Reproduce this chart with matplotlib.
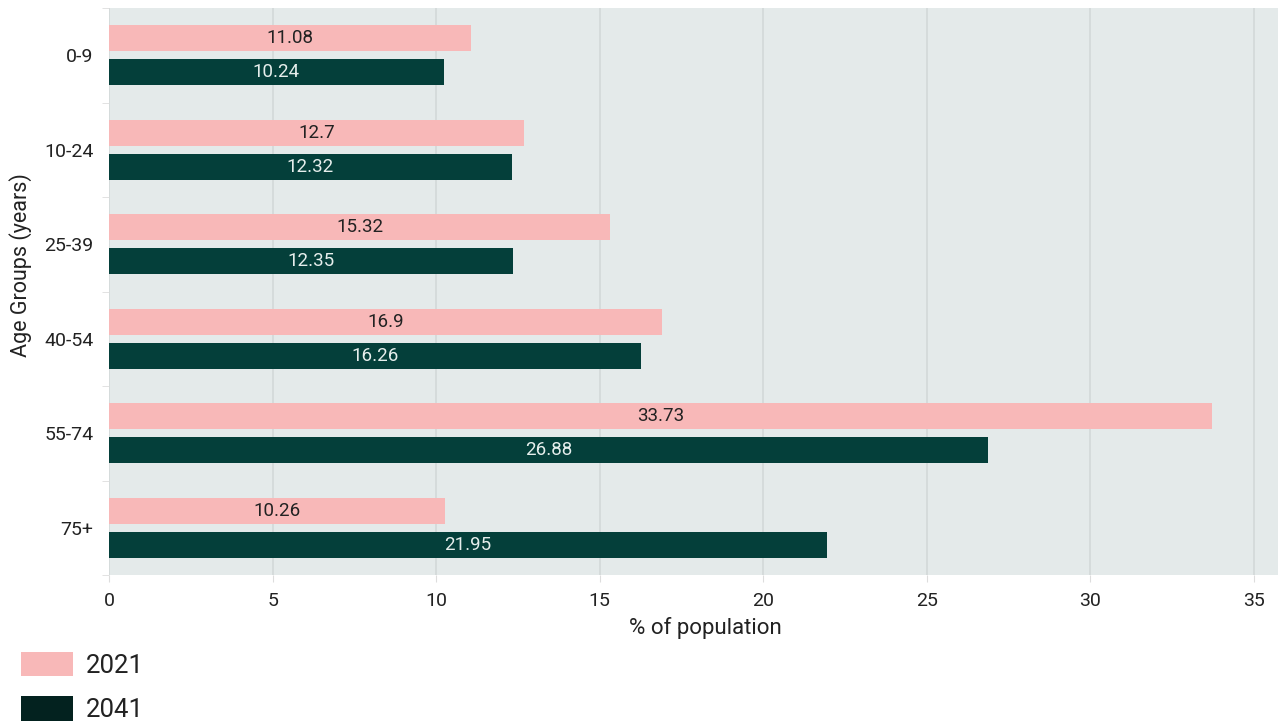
import numpy as np
from matplotlib import pyplot as plt
from matplotlib.patches import Patch

age_groups = ['0-9', '10-24', '25-39', '40-54', '55-74', '75+']
pct_2021 = [11.08, 12.7, 15.32, 16.9, 33.73, 10.26]
pct_2041 = [10.24, 12.32, 12.35, 16.26, 26.88, 21.95]

pink = '#F8B8B8'
green = '#043F3A'
green_legend = '#03221F'

plt.rcParams['font.family'] = ['Roboto', 'DejaVu Sans']

W, H = 1279, 725
fig = plt.figure(figsize=(W / 100, H / 100), dpi=100)
ax = fig.add_axes([109 / W, 1 - 575 / H, (1278 - 109) / W, (575 - 8) / H])
ax.set_facecolor('#E4EAEA')

y = np.arange(len(age_groups))
bar_h = 0.28
off = 0.18

bars_a = ax.barh(y - off, pct_2021, height=bar_h, color=pink, zorder=3)
bars_b = ax.barh(y + off, pct_2041, height=bar_h, color=green, zorder=3)

# value labels sit in the middle of each bar
for rect, v in zip(bars_a, pct_2021):
    ax.text(v / 2, rect.get_y() + rect.get_height() / 2, f'{v:g}',
            ha='center', va='center', fontsize=13.5, color='#222222', zorder=4)
for rect, v in zip(bars_b, pct_2041):
    ax.text(v / 2, rect.get_y() + rect.get_height() / 2, f'{v:g}',
            ha='center', va='center', fontsize=13.5, color='#E6EEEC', zorder=4)

ax.set_xlim(0, 35.74)
ax.set_ylim(len(age_groups) - 0.5, -0.5)
ax.set_xticks(range(0, 36, 5))
ax.set_yticks(y)
ax.set_yticklabels(age_groups)
ax.set_yticks(np.arange(-0.5, len(age_groups)), minor=True)
ax.tick_params(axis='y', which='major', length=0, pad=11, labelsize=14, labelcolor='#222222')
ax.tick_params(axis='y', which='minor', length=5, color='#DDDDDD')
ax.tick_params(axis='x', length=5, color='#DDDDDD', labelsize=14, labelcolor='#222222', pad=7)

ax.grid(axis='x', color='#D3D9D9', linewidth=1.2, zorder=0)
for s in ax.spines.values():
    s.set_visible(False)

fig.text(705 / W, 1 - 628 / H, '% of population', fontsize=16, color='#222222',
         ha='center', va='center')
fig.text(21 / W, 1 - 265 / H, 'Age Groups (years)', fontsize=15.5, color='#222222',
         ha='center', va='center', rotation=90)

handles = [Patch(facecolor=pink, label='2021'), Patch(facecolor=green_legend, label='2041')]
fig.legend(handles=handles, loc='upper left', bbox_to_anchor=(21 / W, 1 - 652 / H),
           frameon=False, fontsize=18.5, handlelength=2.02, handleheight=1.08,
           handletextpad=0.5, labelspacing=0.72, borderpad=0, borderaxespad=0,
           labelcolor='#222222')

fig.savefig('out.png', dpi=100)
